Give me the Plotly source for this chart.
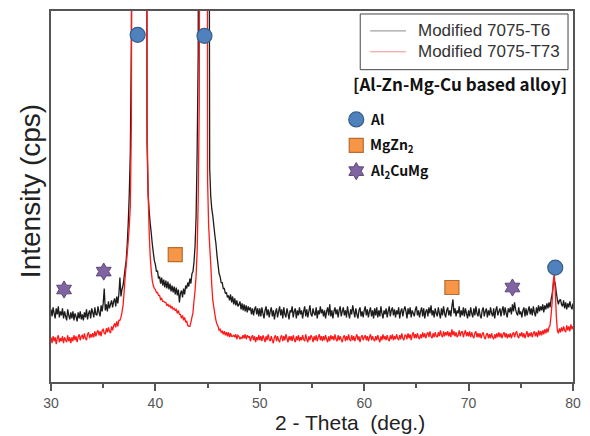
import numpy as np
import plotly.graph_objects as go

# ---------------- data ----------------
# 2-theta sampling grid (deg.), 30.0 ... 80.0, step 0.1
two_theta = np.round(np.arange(300, 801) / 10.0, 1)

# Modified 7075-T6 (black) intensity, cps
intensity_t6 = [
    73, 66, 75, 69, 64, 74, 68, 76, 65, 71,   # 30
    67, 74, 64, 71, 66, 62, 73, 67, 63, 70,   # 31
    64, 71, 62, 69, 66, 61, 70, 64, 71, 63,   # 32
    68, 62, 70, 65, 73, 63, 69, 72, 64, 74,   # 33
    70, 65, 75, 68, 67, 76, 70, 66, 77, 71,   # 34
    79, 94, 72, 78, 71, 81, 74, 78, 82, 75,   # 35
    81, 84, 76, 86, 79, 88, 105, 86, 93, 97,  # 36
    105, 114, 122, 138, 160, 190, 232, 345, 900, 2500,  # 37
    5200, 7900, 11000, 13800, 15200, 14500, 12600, 10000, 7200, 4800,  # 38
    2600, 1100, 240, 190, 172, 160, 150, 139, 130, 122,  # 39
    118, 111, 112, 104, 106, 99, 105, 97, 103, 95,  # 40
    102, 94, 101, 93, 99, 91, 97, 90, 96, 88,  # 41
    95, 87, 93, 80, 89, 92, 85, 94, 88, 97,   # 42
    94, 100, 96, 104, 99, 109, 111, 121, 137, 167,  # 43
    232, 330, 1100, 2600, 4500, 6200, 7000, 6800, 5600, 3800,  # 44
    2000, 800, 215, 187, 174, 167, 157, 147, 139, 127,  # 45
    118, 109, 106, 100, 100, 94, 94, 89, 90, 85,  # 46
    87, 82, 88, 80, 86, 78, 84, 77, 82, 76,   # 47
    78, 81, 73, 79, 72, 78, 71, 77, 70, 76,   # 48
    72, 75, 68, 74, 67, 73, 76, 68, 74, 66,   # 49
    74, 66, 75, 69, 64, 72, 76, 67, 73, 65,   # 50
    71, 75, 66, 72, 63, 70, 74, 65, 71, 76,   # 51
    67, 73, 64, 75, 68, 65, 74, 69, 63, 72,   # 52
    70, 76, 65, 71, 74, 64, 72, 67, 75, 68,   # 53
    72, 64, 71, 76, 66, 73, 65, 71, 77, 68,   # 54
    66, 74, 69, 67, 75, 64, 72, 68, 76, 69,   # 55
    73, 66, 72, 64, 71, 75, 67, 78, 66, 72,   # 56
    64, 71, 75, 68, 73, 65, 72, 76, 66, 71,   # 57
    75, 67, 72, 65, 76, 69, 64, 73, 68, 77,   # 58
    71, 65, 74, 68, 64, 72, 75, 66, 71, 65,   # 59
    72, 76, 67, 73, 65, 71, 75, 66, 72, 64,   # 60
    74, 67, 75, 65, 72, 66, 76, 69, 64, 72,   # 61
    68, 74, 65, 71, 76, 66, 72, 75, 67, 73,   # 62
    65, 72, 68, 75, 64, 71, 74, 66, 72, 76,   # 63
    71, 64, 74, 68, 75, 65, 72, 69, 66, 73,   # 64
    76, 67, 72, 65, 71, 75, 66, 74, 64, 71,   # 65
    73, 66, 75, 69, 77, 67, 72, 65, 74, 69,   # 66
    66, 75, 69, 64, 74, 67, 76, 69, 65, 72,   # 67
    75, 67, 72, 66, 76, 83, 69, 74, 66, 72,   # 68
    69, 76, 65, 72, 67, 75, 66, 74, 69, 64,   # 69
    72, 66, 75, 69, 65, 74, 67, 76, 69, 66,   # 70
    74, 67, 64, 72, 75, 66, 71, 74, 65, 72,   # 71
    67, 75, 69, 66, 74, 64, 72, 76, 67, 71,   # 72
    74, 66, 72, 76, 67, 75, 69, 65, 74, 70,   # 73
    75, 68, 78, 71, 80, 73, 69, 67, 75, 68,   # 74
    71, 65, 72, 75, 66, 74, 67, 72, 76, 68,   # 75
    74, 67, 76, 70, 66, 75, 69, 77, 71, 76,   # 76
    72, 78, 70, 77, 73, 79, 74, 80, 75, 83,   # 77
    88, 97, 102, 99, 90, 83, 78, 82, 83, 78,  # 78
    76, 82, 74, 80, 73, 79, 75, 81, 76, 73,   # 79
    79,                                        # 80
]

# Modified 7075-T73 (red) intensity, cps
intensity_t73 = [
    45, 39, 46, 41, 45, 38, 44, 47, 40, 44,   # 30
    41, 46, 39, 45, 42, 40, 47, 41, 45, 39,   # 31
    45, 41, 47, 42, 46, 40, 45, 48, 42, 46,   # 32
    47, 43, 49, 44, 42, 48, 50, 44, 48, 45,   # 33
    49, 45, 51, 46, 50, 52, 47, 51, 46, 52,   # 34
    53, 49, 48, 54, 50, 55, 51, 49, 56, 52,   # 35
    56, 59, 55, 61, 56, 62, 62, 65, 70, 77,   # 36
    90, 105, 117, 129, 142, 157, 177, 262, 800, 2400,  # 37
    5000, 7800, 11000, 13900, 15500, 15000, 13200, 10500, 7500, 4800,  # 38
    2400, 1000, 262, 192, 152, 127, 112, 102, 97, 94,  # 39
    93, 90, 90, 87, 87, 83, 84, 81, 81, 80,   # 40
    80, 77, 78, 76, 77, 74, 76, 73, 74, 72,   # 41
    73, 69, 72, 68, 68, 64, 67, 62, 65, 60,   # 42
    61, 57, 56, 56, 60, 65, 70, 82, 92, 107,  # 43
    132, 182, 280, 700, 2600, 5000, 6800, 7200, 5000, 1500,  # 44
    202, 157, 137, 119, 97, 82, 75, 68, 62, 58,  # 45
    56, 52, 53, 50, 51, 48, 51, 47, 50, 46,   # 46
    50, 45, 49, 46, 46, 47, 45, 48, 43, 47,   # 47
    46, 43, 45, 44, 47, 44, 48, 43, 47, 45,   # 48
    46, 41, 45, 47, 42, 46, 40, 45, 42, 47,   # 49
    42, 46, 41, 47, 44, 40, 46, 42, 48, 43,   # 50
    41, 46, 42, 39, 45, 47, 41, 46, 42, 40,   # 51
    45, 47, 41, 46, 42, 48, 44, 40, 46, 42,   # 52
    46, 41, 47, 43, 40, 46, 42, 47, 41, 45,   # 53
    42, 47, 43, 41, 48, 43, 40, 46, 42, 47,   # 54
    45, 40, 46, 42, 47, 41, 45, 48, 42, 46,   # 55
    41, 46, 42, 47, 43, 40, 46, 41, 47, 43,   # 56
    46, 42, 48, 43, 41, 47, 42, 46, 43, 40,   # 57
    45, 47, 41, 46, 42, 48, 43, 41, 47, 42,   # 58
    46, 41, 45, 48, 42, 46, 40, 45, 47, 42,   # 59
    45, 47, 42, 46, 41, 45, 48, 42, 46, 43,   # 60
    41, 46, 42, 47, 43, 40, 46, 42, 48, 43,   # 61
    46, 42, 47, 43, 41, 47, 43, 48, 42, 46,   # 62
    43, 48, 44, 42, 47, 43, 49, 44, 42, 47,   # 63
    47, 43, 49, 44, 48, 42, 47, 50, 44, 48,   # 64
    44, 49, 45, 43, 48, 44, 50, 45, 49, 44,   # 65
    48, 50, 45, 51, 46, 44, 49, 45, 50, 46,   # 66
    45, 50, 46, 52, 47, 45, 51, 46, 50, 47,   # 67
    51, 46, 50, 45, 53, 47, 51, 46, 50, 45,   # 68
    47, 52, 46, 50, 51, 45, 49, 52, 46, 50,   # 69
    46, 51, 45, 50, 46, 44, 49, 51, 45, 49,   # 70
    45, 49, 44, 48, 50, 45, 43, 48, 49, 44,   # 71
    48, 44, 49, 45, 43, 48, 44, 49, 45, 50,   # 72
    45, 49, 44, 48, 50, 45, 49, 44, 48, 45,   # 73
    49, 44, 48, 50, 45, 49, 51, 46, 44, 49,   # 74
    46, 50, 45, 49, 44, 48, 51, 45, 49, 46,   # 75
    50, 45, 49, 51, 46, 50, 45, 52, 47, 51,   # 76
    47, 52, 48, 53, 49, 54, 50, 55, 57, 67,   # 77
    80, 100, 109, 92, 67, 52, 49, 54, 50, 55,  # 78
    51, 56, 52, 50, 57, 52, 56, 51, 58, 53,   # 79
    56,                                        # 80
]

# phase identification markers (2-theta, marker height in cps)
al_theta = [38.3, 44.7, 78.3]
al_level = [349, 348, 115]
mgzn2_theta = [41.9, 68.4]
mgzn2_level = [128, 95]
al2cumg_theta = [31.25, 35.05, 74.2]
al2cumg_level = [93, 111, 95]

series_names = ["Modified 7075-T6", "Modified 7075-T73"]
phase_labels = ["Al", "MgZn<sub>2</sub>", "Al<sub>2</sub>CuMg"]
x_ticks = [30, 40, 50, 60, 70, 80]
x_range = [30, 80]
y_range = [0, 373]

assert len(intensity_t6) == len(two_theta) == len(intensity_t73)

# ---------------- styling ----------------
W, H = 590, 436
L, R, T, B = 51, 14, 9, 54
PW, PH = W - L - R, H - T - B


def px(xp):
    return (xp - L) / PW


def py(yp):
    return (H - B - yp) / PH


def to_data_x(xp):
    return x_range[0] + px(xp) * (x_range[1] - x_range[0])


def to_data_y(yp):
    return y_range[0] + py(yp) * (y_range[1] - y_range[0])


FONT = "Arial, Liberation Sans, sans-serif"
KFONT = "Noto Sans CJK KR, Noto Sans, sans-serif"

AL_STYLE = dict(symbol="circle", size=15, color="#4F81BD", line=dict(color="#385D8A", width=1.2))
MG_STYLE = dict(symbol="square", size=14, color="#F79646", line=dict(color="#B66D31", width=1.2))
CU_STYLE = dict(symbol="hexagram", size=13, color="#8064A2", line=dict(color="#5C4776", width=1))

fig = go.Figure()
fig.add_trace(go.Scatter(x=two_theta, y=intensity_t6, mode="lines", name=series_names[0],
                         line=dict(color="#1c1c1c", width=1.3, simplify=False), showlegend=False))
fig.add_trace(go.Scatter(x=two_theta, y=intensity_t73, mode="lines", name=series_names[1],
                         line=dict(color="#ff1a1a", width=1.3, simplify=False), showlegend=False))
fig.add_trace(go.Scatter(x=al_theta, y=al_level, mode="markers", name="Al",
                         marker=AL_STYLE, showlegend=False, cliponaxis=False))
fig.add_trace(go.Scatter(x=mgzn2_theta, y=mgzn2_level, mode="markers", name="MgZn2",
                         marker=MG_STYLE, showlegend=False, cliponaxis=False))
fig.add_trace(go.Scatter(x=al2cumg_theta, y=al2cumg_level, mode="markers", name="Al2CuMg",
                         marker=CU_STYLE, showlegend=False, cliponaxis=False))

# key symbols for the phase markers (upper-right key)
for i, st in enumerate([AL_STYLE, MG_STYLE, CU_STYLE]):
    fig.add_trace(go.Scatter(x=[to_data_x(358)], y=[to_data_y(118 + 26 * i)], mode="markers",
                             marker=st, showlegend=False, hoverinfo="skip", cliponaxis=False))

shapes = []
annotations = []
# line legend box
shapes.append(dict(type="rect", xref="paper", yref="paper", x0=px(362), x1=px(571),
                   y0=py(68), y1=py(12), line=dict(color="#444", width=1)))
for i, (col, name) in enumerate(zip(["#8a8a8a", "#f29090"], series_names)):
    yy = py(29 + 21 * i)
    shapes.append(dict(type="line", xref="paper", yref="paper", x0=px(372), x1=px(408),
                       y0=yy, y1=yy, line=dict(color=col, width=1)))
    annotations.append(dict(xref="paper", yref="paper", x=px(418), y=yy, xanchor="left",
                            yanchor="middle", text=name, showarrow=False,
                            font=dict(family=FONT, size=17, color="#333")))

annotations.append(dict(xref="paper", yref="paper", x=px(572), y=py(82), xanchor="right",
                        yanchor="middle", text="<b>[Al-Zn-Mg-Cu based alloy]</b>", showarrow=False,
                        font=dict(family=KFONT, size=17, color="#111")))
for i, lab in enumerate(phase_labels):
    annotations.append(dict(xref="paper", yref="paper", x=px(370), y=py(118 + 26 * i),
                            xanchor="left", yanchor="middle", text="<b>" + lab + "</b>",
                            showarrow=False, font=dict(family=KFONT, size=14, color="#111")))

# axis titles
annotations.append(dict(xref="paper", yref="paper", x=px(352), y=py(423), xanchor="center",
                        yanchor="middle", text="2 - Theta&nbsp;&nbsp;(deg.)", showarrow=False,
                        font=dict(family=FONT, size=21, color="#222")))
annotations.append(dict(xref="paper", yref="paper", x=px(30), y=py(190), xanchor="center",
                        yanchor="middle", text="Intensity (cps)", textangle=-90, showarrow=False,
                        font=dict(family=FONT, size=28, color="#222")))

fig.update_layout(
    width=W, height=H,
    margin=dict(l=L, r=R, t=T, b=B),
    paper_bgcolor="white", plot_bgcolor="white",
    showlegend=False,
    shapes=shapes, annotations=annotations,
    xaxis=dict(range=x_range, tickvals=x_ticks, ticktext=[str(v) for v in x_ticks],
               ticks="outside", ticklen=7, tickwidth=1.5, tickcolor="#555",
               showline=True, linecolor="#555", linewidth=1.5, mirror=True,
               showgrid=False, zeroline=False,
               tickfont=dict(family=FONT, size=14, color="#555"),
               minor=dict(tickvals=[35, 45, 55, 65, 75], ticks="outside", ticklen=4,
                          tickwidth=1.5, tickcolor="#555")),
    yaxis=dict(range=y_range, showticklabels=False, ticks="", showline=True,
               linecolor="#555", linewidth=1.5, mirror=True, showgrid=False, zeroline=False),
)

fig.write_html("out.html")
